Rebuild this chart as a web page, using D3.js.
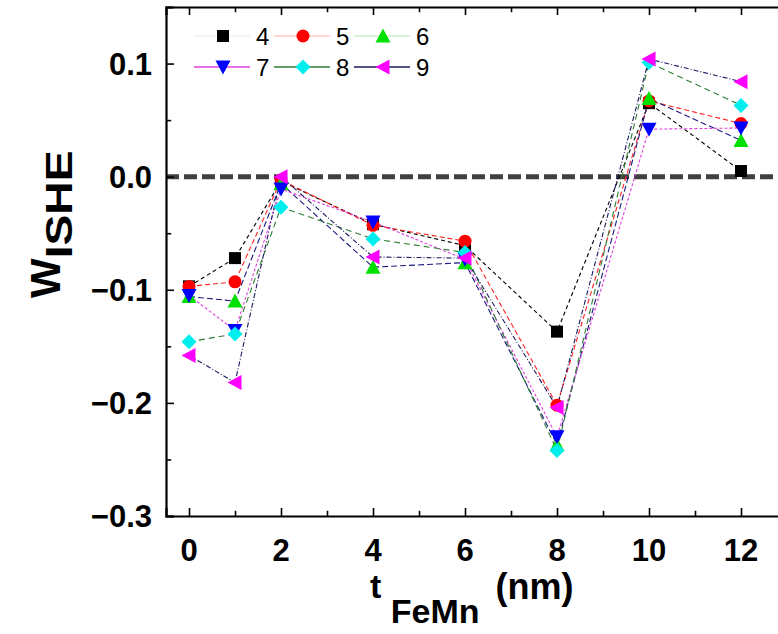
<!DOCTYPE html>
<html>
<head>
<meta charset="utf-8">
<script src="https://cdn.jsdelivr.net/npm/d3@7.9.0/dist/d3.min.js"></script>
<style>
  body { margin: 0; background: #fff; }
  svg { display: block; font-family: Arial, "Liberation Sans", sans-serif; }
</style>
</head>
<body>
<svg id="chart" width="778" height="634"></svg>
<script>
// thickness values (nm)
const thickness = [0, 1, 2, 4, 6, 8, 10, 12];
const seriesNames = ['4', '5', '6', '7', '8', '9'];

// W_ISHE for each series
const w4 = [-0.097, -0.072, -0.004, -0.042, -0.061, -0.137, 0.065, 0.005];
const w5 = [-0.097, -0.093, -0.003, -0.043, -0.057, -0.202, 0.067, 0.047];
const w6 = [-0.106, -0.110, -0.006, -0.080, -0.076, -0.237, 0.069, 0.032];
const w7 = [-0.105, -0.136, -0.011, -0.040, -0.073, -0.230, 0.042, 0.043];
const w8 = [-0.146, -0.139, -0.027, -0.055, -0.067, -0.242, 0.101, 0.063];
const w9 = [-0.158, -0.182, 0.000, -0.071, -0.072, -0.204, 0.104, 0.084];

const yTicks = [-0.3, -0.2, -0.1, 0.0, 0.1];
const xTicks = [0, 2, 4, 6, 8, 10, 12];

const values = [w4, w5, w6, w7, w8, w9];
const markerFill = ['#000000', '#ff0000', '#00e000', '#0000ff', '#00eeee', '#ff00ff'];
const lineColor = ['#000000', '#ff2020', '#1a1a80', '#e040e0', '#2e7d32', '#1a1a60'];
const lineDash = ['4,3', '5,3', '6,3', '3,2', '6,4', '5,2,1,2'];
const symbols = ['square', 'circle', 'up', 'down', 'diamond', 'left'];

const plotLeft = 166, plotTop = 7, plotBottom = 516, plotRight = 787;

const x = d3.scaleLinear().domain([-0.5, 13]).range([plotLeft, plotRight]);
const y = d3.scaleLinear().domain([-0.3, 0.15]).range([plotBottom, plotTop]);

const svg = d3.select('#chart');

// marker shapes
function marker(g, kind, cx, cy, fill) {
    const s = 6.5;
    let el;
    if (kind === 'square') {
        el = g.append('rect').attr('x', cx - s + 0.5).attr('y', cy - s + 0.5)
            .attr('width', 2 * s - 1).attr('height', 2 * s - 1);
    } else if (kind === 'circle') {
        el = g.append('circle').attr('cx', cx).attr('cy', cy).attr('r', s);
    } else {
        let pts;
        if (kind === 'up') pts = [[0, -s - 1], [s + 1, s], [-s - 1, s]];
        else if (kind === 'down') pts = [[0, s + 1], [s + 1, -s], [-s - 1, -s]];
        else if (kind === 'diamond') pts = [[0, -s - 1], [s + 1, 0], [0, s + 1], [-s - 1, 0]];
        else pts = [[-s - 1, 0], [s, -s - 1], [s, s + 1]];
        el = g.append('polygon').attr('points', pts.map(p => [cx + p[0], cy + p[1]].join(',')).join(' '));
    }
    el.attr('fill', fill);
}

// zero line
svg.append('line')
    .attr('x1', plotLeft).attr('x2', plotRight)
    .attr('y1', y(0)).attr('y2', y(0))
    .attr('stroke', '#404040').attr('stroke-width', 5)
    .attr('stroke-dasharray', '13,5');

// series lines
const line = d3.line().x((d, i) => x(thickness[i])).y(d => y(d));
values.forEach((vals, k) => {
    svg.append('path')
        .attr('d', line(vals))
        .attr('fill', 'none')
        .attr('stroke', lineColor[k])
        .attr('stroke-width', 1.1)
        .attr('stroke-dasharray', lineDash[k]);
});

// markers
const markerGroup = svg.append('g');
values.forEach((vals, k) => {
    vals.forEach((v, i) => marker(markerGroup, symbols[k], x(thickness[i]), y(v), markerFill[k]));
});

// axes
const axisBottom = d3.axisBottom(x).tickValues(d3.range(0, 13, 1)).tickSize(-8).tickFormat('');
const axisTop = d3.axisTop(x).tickValues(d3.range(0, 13, 1)).tickSize(-8).tickFormat('');
const axisLeft = d3.axisLeft(y).tickValues(d3.range(-0.3, 0.151, 0.05)).tickSize(-8).tickFormat('');
const axisRight = d3.axisRight(y).tickValues(d3.range(-0.3, 0.151, 0.05)).tickSize(-8).tickFormat('');

function styleAxis(g) {
    g.select('.domain').attr('stroke', '#000').attr('stroke-width', 2.2);
    g.selectAll('.tick line').attr('stroke', '#000').attr('stroke-width', 1.6);
    // minor ticks shorter
    g.selectAll('.tick line').each(function(d) {
        const minor = Math.abs(d) < 1 ? Math.abs(Math.round(d * 100)) % 10 !== 0 : d % 2 !== 0;
        if (minor) {
            const el = d3.select(this);
            ['x2', 'y2'].forEach(a => { if (+el.attr(a)) el.attr(a, +el.attr(a) * 0.65); });
        }
    });
}

svg.append('g').attr('transform', `translate(0,${plotBottom})`).call(axisBottom).call(styleAxis);
svg.append('g').attr('transform', `translate(0,${plotTop})`).call(axisTop).call(styleAxis);
svg.append('g').attr('transform', `translate(${plotLeft},0)`).call(axisLeft).call(styleAxis);
svg.append('g').attr('transform', `translate(${plotRight},0)`).call(axisRight).call(styleAxis);

// tick labels
svg.append('g').selectAll('text').data(xTicks).join('text')
    .attr('x', d => x(d)).attr('y', plotBottom + 45)
    .attr('text-anchor', 'middle')
    .attr('font-size', 31).attr('font-weight', 'bold')
    .text(d => d);

svg.append('g').selectAll('text').data(yTicks).join('text')
    .attr('x', 152).attr('y', d => y(d) + 11)
    .attr('text-anchor', 'end')
    .attr('font-size', 31).attr('font-weight', 'bold')
    .text(d => d3.format('.1f')(d));

// axis titles
const xt = svg.append('text').attr('x', 370).attr('y', 598)
    .attr('font-size', 34).attr('font-weight', 'bold');
xt.append('tspan').text('t ');
xt.append('tspan').attr('dy', 25).text('FeMn');
xt.append('tspan').attr('dy', -24).attr('dx', 6).attr('font-size', 36).text(' (nm)');

const yt = svg.append('text')
    .attr('transform', 'translate(60,298) rotate(-90)')
    .attr('font-size', 42).attr('font-weight', 'bold');
yt.append('tspan').text('W');
yt.append('tspan').attr('dy', 12).attr('font-size', 36)
    .attr('textLength', 108).attr('lengthAdjust', 'spacingAndGlyphs').text('ISHE');

// legend
const legendRows = [[0, 1, 2], [3, 4, 5]];
const legendLine = ['#f0f0f0', '#ffc8c8', '#c8f0c8', '#e040e0', '#2e7d32', '#1a1a60'];
legendRows.forEach((row, r) => {
    const ly = 36 + r * 31;
    row.forEach((k, c) => {
        const lx = 223 + c * 80;
        svg.append('line')
            .attr('x1', lx - 29).attr('x2', lx + 27)
            .attr('y1', ly).attr('y2', ly)
            .attr('stroke', legendLine[k]).attr('stroke-width', 1.3);
        marker(svg, symbols[k], lx, ly, markerFill[k]);
        svg.append('text')
            .attr('x', lx + 33).attr('y', ly + 9)
            .attr('font-size', 24)
            .text(seriesNames[k]);
    });
});
</script>
</body>
</html>
